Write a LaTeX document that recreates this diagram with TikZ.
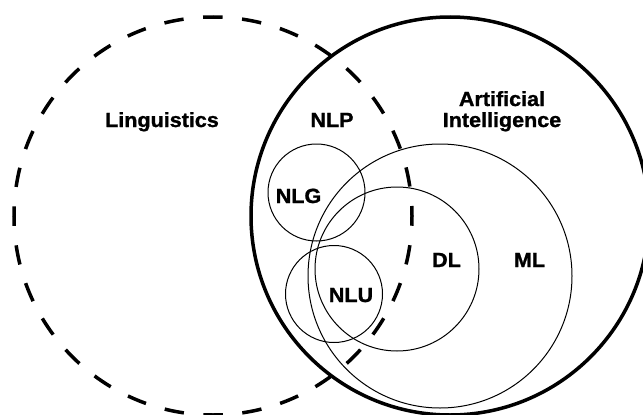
\documentclass[tikz,border=0pt]{standalone}
\usepackage{fontspec}
\setmainfont{Liberation Sans}[FakeStretch=1.05, BoldFeatures={FakeBold=1.2}]
\begin{document}
\begin{tikzpicture}[x=1pt,y=-1pt,
  lbl/.style={font=\bfseries\fontsize{20.5}{21}\selectfont, inner sep=0pt, anchor=base},
  thick circ/.style={line width=3.5pt},
  dashed circ/.style={line width=3.5pt, dash pattern=on 19.5pt off 19.57pt, dash phase=9.75pt},
  thin circ/.style={line width=1pt}]
\fill[white] (0,0) rectangle (643,415);
\useasboundingbox (0,0) rectangle (643,415);
% Linguistics (dashed) and Artificial Intelligence (solid)
\draw[dashed circ] (213,216) circle[radius=199];
\draw[thick circ] (450,216) circle[radius=199];
% ML, DL, NLG, NLU
\draw[thin circ] (440,276) circle[radius=132];
\draw[thin circ] (397,269) circle[radius=82];
\draw[thin circ] (316.5,192.5) circle[radius=48.5];
\draw[thin circ] (334,294) circle[radius=48.5];
% labels
\node[lbl] (ling) at (162,127) {Linguistics};
\node[lbl] (nlp) at (332,127) {NLP};
\node[lbl] (ai1) at (502,106) {Artificial};
\node[lbl] (ai2) at (502,127) {Intelligence};
\node[lbl] (nlg) at (298.5,203) {NLG};
\node[lbl] (nlu) at (351,302) {NLU};
\node[lbl] (dl) at (446.5,267) {DL};
\node[lbl] (ml) at (529.5,267) {ML};
\end{tikzpicture}
\end{document}
